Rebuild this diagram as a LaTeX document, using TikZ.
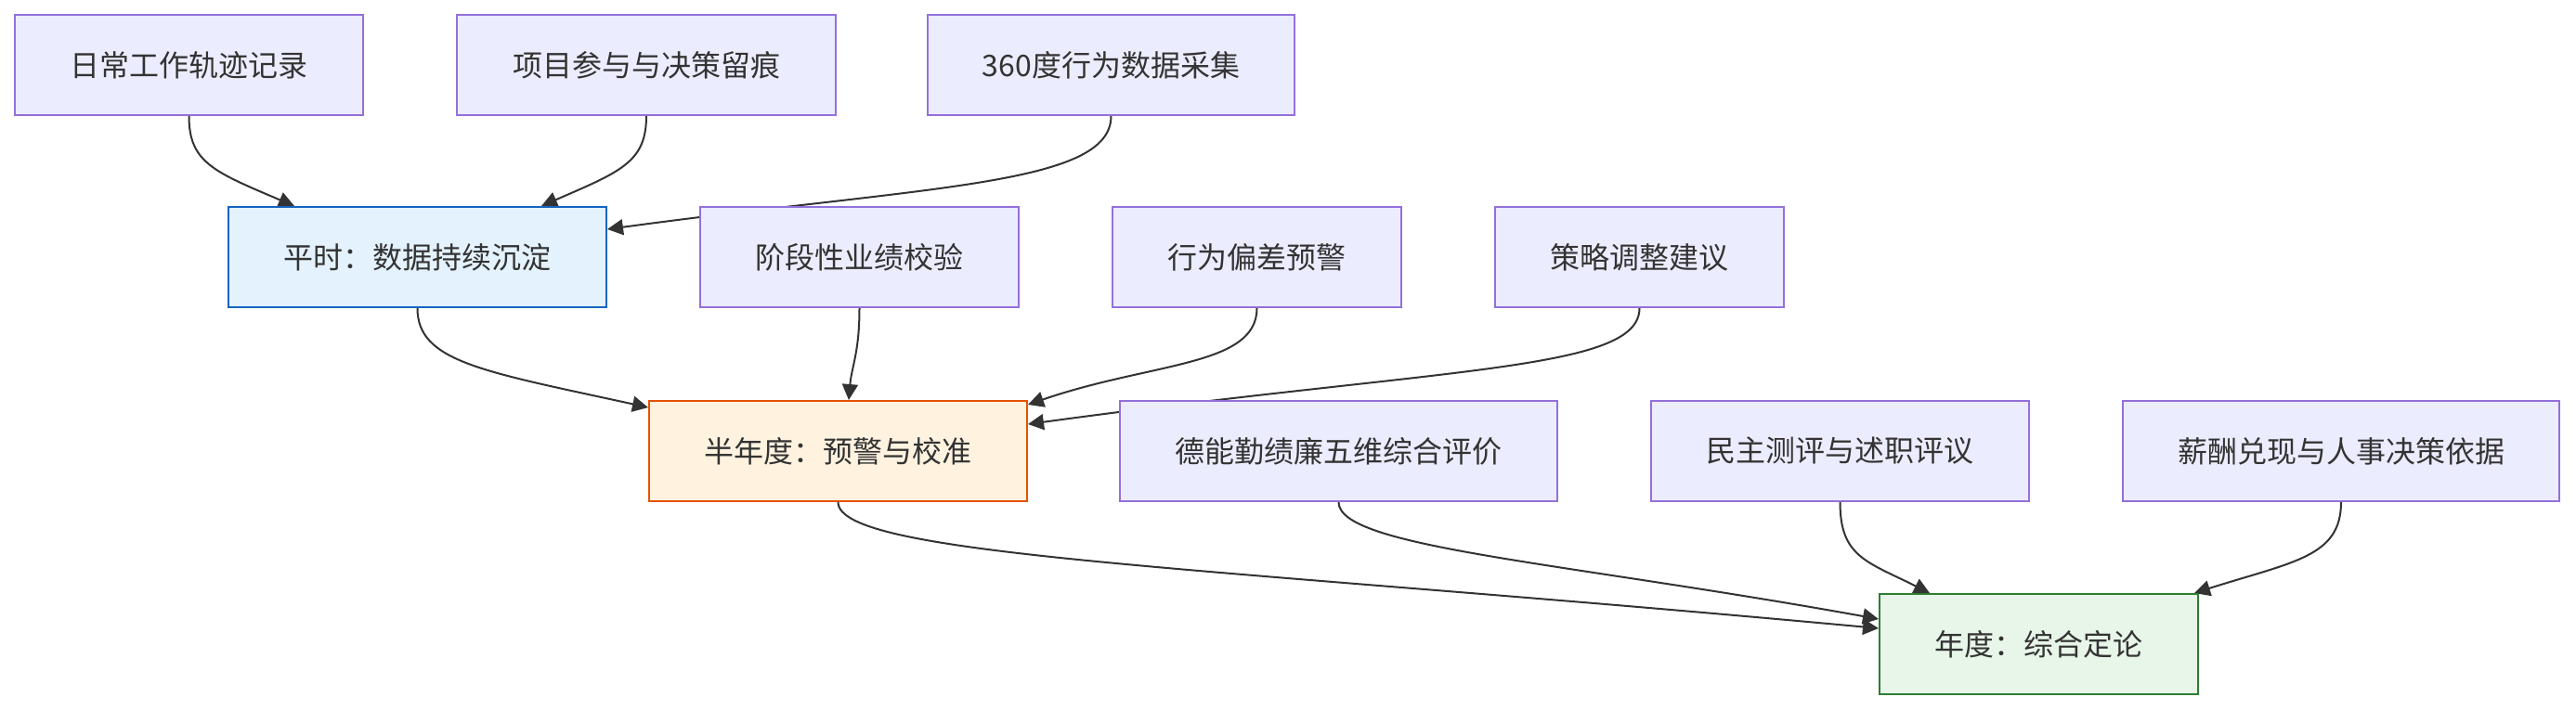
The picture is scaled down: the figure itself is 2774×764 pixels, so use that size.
\documentclass[tikz,border=0pt]{standalone}
\usepackage{fontspec}
\newfontfamily\cjk{Noto Sans CJK SC}
\usetikzlibrary{arrows.meta,calc,backgrounds}
\definecolor{nodefill}{HTML}{ECECFF}
\definecolor{nodeline}{HTML}{9370DB}
\definecolor{edgecol}{HTML}{333333}
\definecolor{txt}{HTML}{333333}
\definecolor{bluefill}{HTML}{E3F2FD}
\definecolor{blueline}{HTML}{1565C0}
\definecolor{orangefill}{HTML}{FFF3E0}
\definecolor{orangeline}{HTML}{E65100}
\definecolor{greenfill}{HTML}{E8F5E9}
\definecolor{greenline}{HTML}{2E7D32}
\begin{document}
\begin{tikzpicture}[x=1pt,y=1pt,
  box/.style={draw=nodeline, fill=nodefill, line width=2pt, minimum height=108pt, inner sep=0pt, text=txt, font=\cjk\fontsize{32}{38}\selectfont},
  bluebox/.style={box, draw=blueline, fill=bluefill},
  orangebox/.style={box, draw=orangeline, fill=orangefill},
  greenbox/.style={box, draw=greenline, fill=greenfill},
  edge/.style={draw=edgecol, line width=2pt, -{Triangle[length=17pt,width=17pt]}}
]
\useasboundingbox (0,0) rectangle (2774,-764);
% row 1
\node[box, minimum width=375pt] (a1) at (203.5,-70) {日常工作轨迹记录};
\node[box, minimum width=408pt] (a2) at (696,-70) {项目参与与决策留痕};
\node[box, minimum width=395pt] (a3) at (1196.5,-70) {360度行为数据采集};
% row 2
\node[bluebox, minimum width=407pt] (p) at (449.5,-277) {平时：数据持续沉淀};
\node[box, minimum width=343pt] (b1) at (925.5,-277) {阶段性业绩校验};
\node[box, minimum width=311pt] (b2) at (1353.5,-277) {行为偏差预警};
\node[box, minimum width=311pt] (b3) at (1765.5,-277) {策略调整建议};
% row 3
\node[orangebox, minimum width=407pt] (h) at (902.5,-486) {半年度：预警与校准};
\node[box, minimum width=471pt] (c1) at (1441.5,-486) {德能勤绩廉五维综合评价};
\node[box, minimum width=407pt] (c2) at (1981.5,-486) {民主测评与述职评议};
\node[box, minimum width=470pt] (c3) at (2521,-486) {薪酬兑现与人事决策依据};
% row 4
\node[greenbox, minimum width=343pt] (yr) at (2195.5,-694) {年度：综合定论};
\begin{pgfonlayer}{background}
\fill[white] (0,0) rectangle (2774,-764);
\draw[edge] (a1.south) .. controls (203.5,-175) and (230,-185) .. ($(p.north west)+(72,0)$);
\draw[edge] (a2.south) .. controls (696,-175) and (668,-185) .. ($(p.north west)+(338,0)$);
\draw[edge] (a3.south) .. controls (1196.5,-200) and (1000,-200) .. ($(p.north east)+(0,-25)$);
\draw[edge] (p.south) .. controls (449.5,-390) and (520,-400) .. ($(h.north west)+(0,-8)$);
\draw[edge] (b1.south) .. controls (925.5,-380) and (917,-395) .. ($(h.north west)+(216,0)$);
\draw[edge] (b2.south) .. controls (1353.5,-395) and (1240,-390) .. ($(h.north east)+(0,-5)$);
\draw[edge] (b3.south) .. controls (1765.5,-400) and (1560,-395) .. ($(h.north east)+(0,-26)$);
\draw[edge] (h.south) .. controls (902.5,-600) and (1300,-610) .. ($(yr.north west)+(0,-38)$);
\draw[edge] (c1.south) .. controls (1441.5,-590) and (1680,-605) .. ($(yr.north west)+(0,-28)$);
\draw[edge] (c2.south) .. controls (1981.5,-600) and (2010,-605) .. ($(yr.north west)+(55,0)$);
\draw[edge] (c3.south) .. controls (2521,-600) and (2470,-605) .. ($(yr.north east)+(-5,0)$);
\end{pgfonlayer}
\end{tikzpicture}
\end{document}
